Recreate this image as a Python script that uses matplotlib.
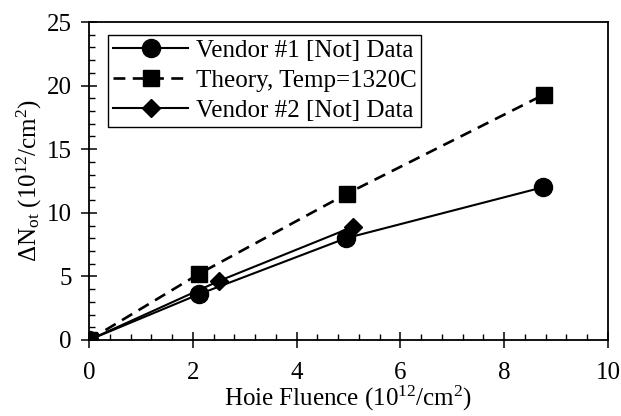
import matplotlib
matplotlib.use("Agg")
import matplotlib.pyplot as plt
from matplotlib.ticker import MultipleLocator

# values
fluence_v1 = [0.0, 2.12, 4.95, 8.74]
not_v1 = [0.0, 3.6, 8.0, 12.0]

fluence_th = [0.0, 2.12, 4.97, 8.77]
not_th = [0.0, 5.2, 11.5, 19.3]

fluence_v2 = [0.0, 2.51, 5.09]
not_v2 = [0.0, 4.65, 8.9]

plt.rcParams['font.family'] = ['Liberation Serif', 'DejaVu Serif']
plt.rcParams['mathtext.fontset'] = 'custom'
plt.rcParams['mathtext.rm'] = 'Liberation Serif'
plt.rcParams['mathtext.it'] = 'Liberation Serif:italic'

fig = plt.figure(figsize=(6.21, 4.16), dpi=100)
ax = fig.add_axes([0.1433, 0.1827, 0.8357, 0.7644])

ax.plot(fluence_v1, not_v1, color='black', linewidth=1.5, marker='o',
        markersize=13, label='Vendor #1 [Not] Data')
ax.plot(fluence_th, not_th, color='black', linewidth=1.9, linestyle=(0, (4.5, 2.8)),
        marker='s', markersize=11, label='Theory, Temp=1320C')
ax.plot(fluence_v2, not_v2, color='black', linewidth=1.5, marker='D',
        markersize=9, label='Vendor #2 [Not] Data')

ax.set_xlim(0, 10)
ax.set_ylim(0, 25)
ax.xaxis.set_major_locator(MultipleLocator(2))
ax.xaxis.set_minor_locator(MultipleLocator(0.4))
ax.yaxis.set_major_locator(MultipleLocator(5))
ax.yaxis.set_minor_locator(MultipleLocator(1))
ax.tick_params(which='major', direction='inout', length=11, width=1.1,
               labelsize=18)
ax.tick_params(axis='y', which='major', pad=7)
ax.tick_params(axis='x', which='major', pad=10)
ax.tick_params(which='minor', direction='in', length=4, width=1.0)
for s in ax.spines.values():
    s.set_linewidth(1.3)

ax.set_xlabel(r'Hoie Fluence (10$^{12}$/cm$^{2}$)', fontsize=18, labelpad=0)
ax.set_ylabel(r'$\Delta$N$_{\mathrm{ot}}$ (10$^{12}$/cm$^{2}$)', fontsize=18, labelpad=2)

leg = ax.legend(loc='upper left', bbox_to_anchor=(0.037, 0.96), fontsize=18,
                frameon=True, fancybox=False, edgecolor='black', framealpha=1,
                handlelength=3.0, handletextpad=0.3, labelspacing=0.3,
                borderpad=0.2, borderaxespad=0)
leg.get_frame().set_linewidth(1.0)

fig.savefig('out.png', dpi=100)
